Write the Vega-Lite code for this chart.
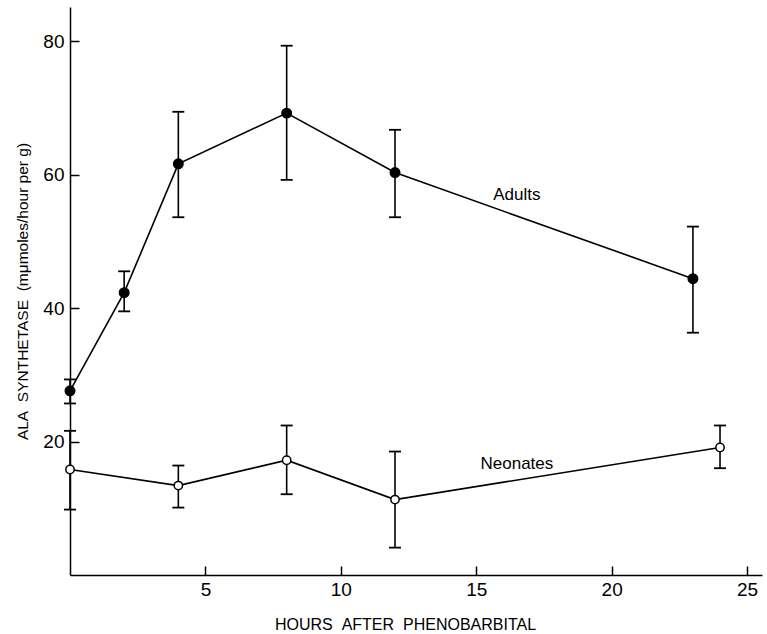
{
  "$schema": "https://vega.github.io/schema/vega-lite/v6.json",
  "width": 692,
  "height": 568,
  "autosize": "none",
  "padding": {"left": 70, "top": 7, "right": 5, "bottom": 59},
  "background": "white",
  "config": {
    "view": {"stroke": null},
    "font": "Liberation Sans",
    "axis": {
      "grid": false,
      "domainColor": "black",
      "domainWidth": 1.5,
      "tickColor": "black",
      "tickWidth": 1.5,
      "labelColor": "black",
      "titleColor": "black",
      "labelFont": "Liberation Sans",
      "titleFont": "Liberation Sans",
      "labelFontSize": 19,
      "titleFontSize": 16,
      "titleFontWeight": "normal"
    }
  },
  "datasets": {
    "series": [
      {"group": "Adults", "hours": 0, "value": 27.6, "lo": 25.7, "hi": 29.3},
      {"group": "Adults", "hours": 2, "value": 42.3, "lo": 39.5, "hi": 45.5},
      {"group": "Adults", "hours": 4, "value": 61.6, "lo": 53.6, "hi": 69.4},
      {"group": "Adults", "hours": 8, "value": 69.2, "lo": 59.2, "hi": 79.3},
      {"group": "Adults", "hours": 12, "value": 60.3, "lo": 53.6, "hi": 66.7},
      {"group": "Adults", "hours": 23, "value": 44.4, "lo": 36.3, "hi": 52.2},
      {"group": "Neonates", "hours": 0, "value": 15.8, "lo": 9.8, "hi": 21.6},
      {"group": "Neonates", "hours": 4, "value": 13.4, "lo": 10.1, "hi": 16.4},
      {"group": "Neonates", "hours": 8, "value": 17.2, "lo": 12.1, "hi": 22.4},
      {"group": "Neonates", "hours": 12, "value": 11.3, "lo": 4.1, "hi": 18.5},
      {"group": "Neonates", "hours": 24, "value": 19.1, "lo": 16.0, "hi": 22.4}
    ],
    "labels": [
      {"label": "Adults", "hours": 16.5, "value": 56.9},
      {"label": "Neonates", "hours": 16.5, "value": 16.7}
    ]
  },
  "encoding": {
    "x": {
      "field": "hours",
      "type": "quantitative",
      "scale": {"domain": [0, 25.55], "nice": false, "zero": false},
      "axis": {
        "values": [5, 10, 15, 20, 25],
        "tickSize": -9,
        "labelPadding": 14,
        "title": "HOURS\u00a0\u00a0AFTER\u00a0\u00a0PHENOBARBITAL",
        "titlePadding": 17,
        "titleX": 335,
        "titleAlign": "center"
      }
    },
    "y": {
      "field": "value",
      "type": "quantitative",
      "scale": {"domain": [0, 85.1], "nice": false, "zero": false},
      "axis": {
        "values": [20, 40, 60, 80],
        "tickSize": -9,
        "labelPadding": 15,
        "title": "ALA\u00a0\u00a0SYNTHETASE\u00a0\u00a0(mμmoles/hour per g)",
        "titleFontSize": 15.5,
        "titlePadding": 12
      }
    }
  },
  "layer": [
    {
      "data": {"name": "series"},
      "mark": {"type": "rule", "color": "black", "strokeWidth": 1.6},
      "encoding": {"y": {"field": "lo", "type": "quantitative"}, "y2": {"field": "hi"}}
    },
    {
      "data": {"name": "series"},
      "mark": {"type": "tick", "orient": "horizontal", "size": 12, "thickness": 1.8, "color": "black", "opacity": 1},
      "encoding": {"y": {"field": "lo", "type": "quantitative"}}
    },
    {
      "data": {"name": "series"},
      "mark": {"type": "tick", "orient": "horizontal", "size": 12, "thickness": 1.8, "color": "black", "opacity": 1},
      "encoding": {"y": {"field": "hi", "type": "quantitative"}}
    },
    {
      "data": {"name": "series"},
      "mark": {"type": "line", "color": "black", "strokeWidth": 1.6},
      "encoding": {"detail": {"field": "group"}}
    },
    {
      "data": {"name": "series"},
      "mark": {"type": "point", "shape": "circle", "filled": false, "stroke": "black", "strokeWidth": 1.5, "opacity": 1},
      "encoding": {
        "fill": {
          "field": "group",
          "type": "nominal",
          "scale": {"domain": ["Adults", "Neonates"], "range": ["black", "white"]},
          "legend": null
        },
        "size": {
          "field": "group",
          "type": "nominal",
          "scale": {"domain": ["Adults", "Neonates"], "range": [90, 70]},
          "legend": null
        }
      }
    },
    {
      "data": {"name": "labels"},
      "mark": {"type": "text", "fontSize": 17, "color": "black", "font": "Liberation Sans"},
      "encoding": {"text": {"field": "label"}}
    }
  ]
}
